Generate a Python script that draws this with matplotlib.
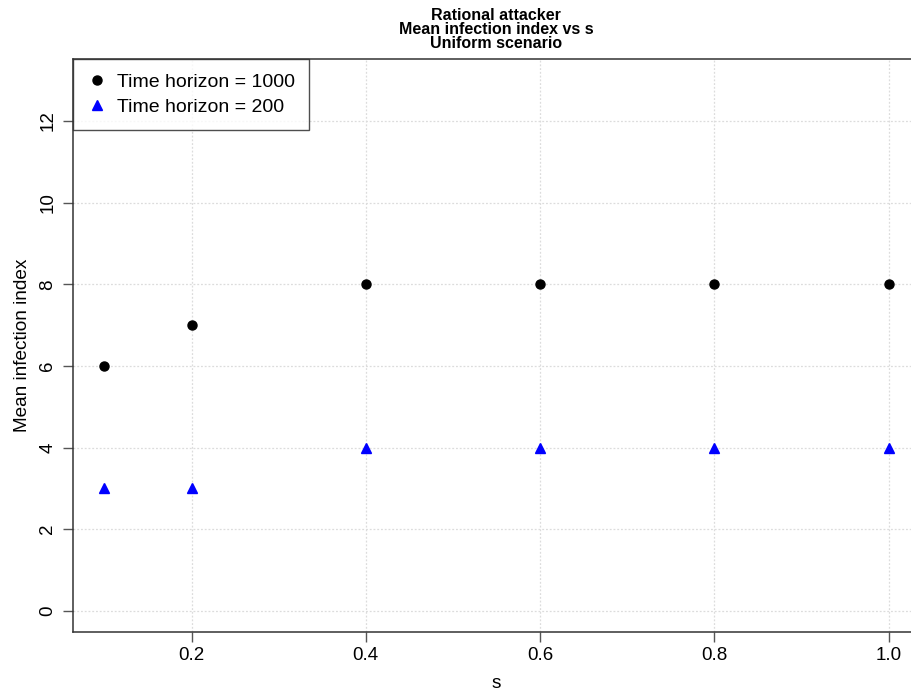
import matplotlib
matplotlib.use("Agg")
import matplotlib.pyplot as plt

plt.rcParams['font.family'] = ['Liberation Sans', 'DejaVu Sans']

# data
s_vals = [0.1, 0.2, 0.4, 0.6, 0.8, 1.0]
mean_1000 = [6, 7, 8, 8, 8, 8]
mean_200 = [3, 3, 4, 4, 4, 4]
x_ticks = [0.2, 0.4, 0.6, 0.8, 1.0]
y_ticks = [0, 2, 4, 6, 8, 10, 12]
title_lines = ['Rational attacker', 'Mean infection index vs s', 'Uniform scenario']

fig = plt.figure(figsize=(9.12, 6.94), dpi=100)
# right edge of the box sits just outside the picture, as in the reference
ax = fig.add_axes([73 / 912, 1 - 632 / 694, (920 - 73) / 912, (632 - 59) / 694])

ax.plot(s_vals, mean_1000, linestyle='none', marker='o', color='black',
        markersize=6.5, label='Time horizon = 1000')
ax.plot(s_vals, mean_200, linestyle='none', marker='^', color='blue',
        markersize=7.5, label='Time horizon = 200')

ax.set_xlim(0.064, 1.036)
ax.set_ylim(-0.52, 13.52)
ax.set_xticks(x_ticks)
ax.set_xticklabels(['0.2', '0.4', '0.6', '0.8', '1.0'])
ax.set_yticks(y_ticks)
ax.set_yticklabels([str(v) for v in y_ticks], rotation=90, va='center')
ax.tick_params(direction='out', length=7, width=1, color='#555555',
               labelsize=13.5, pad=5)
ax.tick_params(axis='x', pad=4)
ax.grid(True, linestyle=(0, (1.5, 1.5)), color='#dcdcdc', linewidth=0.9)
ax.set_axisbelow(True)
for sp in ax.spines.values():
    sp.set_color('#333333')
    sp.set_linewidth(1.1)
ax.spines['right'].set_visible(False)

ax.set_xlabel('s', fontsize=13.7, labelpad=8)
ax.set_ylabel('Mean infection index', fontsize=13.7, labelpad=6)

# three title lines, centred over the plot box
for i, line in enumerate(title_lines):
    fig.text(496 / 912, 1 - (15 + 14.5 * i) / 694, line, ha='center', va='center',
             fontsize=11.5, fontweight='bold')

leg = ax.legend(loc='upper left', fontsize=14, frameon=True, fancybox=False,
                borderaxespad=0, handletextpad=0.5, handlelength=1.0,
                borderpad=0.75, labelspacing=0.35)
leg.get_frame().set_edgecolor('#222222')
leg.get_frame().set_linewidth(1.0)

fig.savefig('out.png', dpi=100)
